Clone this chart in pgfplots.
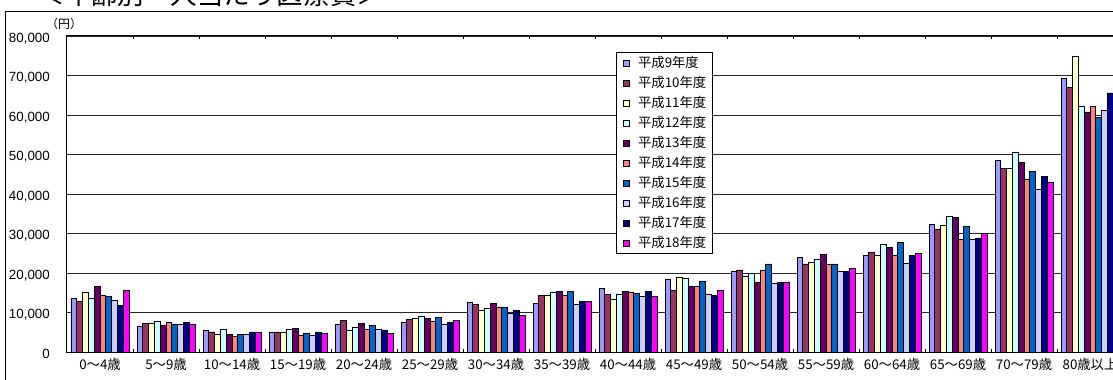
\documentclass[border=0pt]{standalone}
\usepackage{fontspec}
\setmainfont{Liberation Sans}
\newfontfamily\jp{Noto Sans CJK JP}
\usepackage{pgfplots}
\pgfplotsset{compat=1.18}
\definecolor{cA}{HTML}{9999FF}
\definecolor{cB}{HTML}{993366}
\definecolor{cC}{HTML}{FFFFCC}
\definecolor{cD}{HTML}{CCFFFF}
\definecolor{cE}{HTML}{660066}
\definecolor{cF}{HTML}{FF8080}
\definecolor{cG}{HTML}{0066CC}
\definecolor{cH}{HTML}{CCCCFF}
\definecolor{cI}{HTML}{000080}
\definecolor{cJ}{HTML}{FF00FF}
\begin{document}
\begin{tikzpicture}
\useasboundingbox (0,0) rectangle (834.75pt,284.25pt);
\clip (0,0) rectangle (834.75pt,284.25pt);
\node[font=\jp\fontsize{19.9}{21}\selectfont, anchor=base] at (158pt,281pt) {＜年齢別一人当たり医療費＞};
\draw[black, line width=0.75pt] (3.75pt,-10pt) rectangle (850pt,275.25pt);
\node[font=\jp\fontsize{9}{10}\selectfont] at (48pt,266.4pt) {（円）};
\begin{axis}[
  at={(50.25pt,20.25pt)}, anchor=south west,
  scale only axis, width=792pt, height=237pt,
  ybar=0pt, bar width=4.35pt,
  xmin=-0.5, xmax=15.5, ymin=0, ymax=80000,
  xtick={0,...,15},
  xticklabels={0〜4歳,5〜9歳,10〜14歳,15〜19歳,20〜24歳,25〜29歳,30〜34歳,35〜39歳,40〜44歳,45〜49歳,50〜54歳,55〜59歳,60〜64歳,65〜69歳,70〜79歳,80歳以上},
  minor xtick={-0.5,0.5,...,15.5},
  major tick length=0pt, minor tick length=2.25pt, tick align=inside,
  minor tick style={black, line width=0.75pt},
  ytick={0,10000,...,80000},
  scaled y ticks=false,
  /pgf/number format/.cd, fixed, precision=0, 1000 sep={,}, assume math mode=true, /pgfplots/.cd,
  ymajorgrids, grid style={black!85, line width=0.6pt},
  axis line style={black, line width=0.75pt},
  yticklabel style={font=\fontsize{10}{12}\selectfont, text height=7.2pt, text depth=0pt, xshift=-9.4pt, yshift=-1pt},
  xticklabel style={font=\jp\fontsize{10}{12}\selectfont, yshift=-1.2pt},
  every axis plot/.append style={draw=black, line width=0.5pt},
  legend cell align=left,
  legend image code/.code={\draw[#1, line width=0.5pt] (5.25pt,-2.25pt) rectangle (9.75pt,2.25pt); \path (0pt,0pt) (15.75pt,0pt);},
  legend style={at={(0.5199,0.9494)}, anchor=north west, draw=black, line width=0.6pt, fill=white,
    font=\jp\fontsize{10}{12}\selectfont, inner xsep=0pt, inner ysep=0.4pt, row sep=0pt, column sep=0pt,
    nodes={inner sep=0pt, text height=11.2pt, text depth=3.8pt, text width=55.5pt}},
]
\addplot[fill=cA] coordinates {(0,13500) (1,6600) (2,5400) (3,5100) (4,7100) (5,7400) (6,12600) (7,12200) (8,16200) (9,18300) (10,20300) (11,24000) (12,24500) (13,32400) (14,48600) (15,69400)};
\addplot[fill=cB] coordinates {(0,12900) (1,7200) (2,5100) (3,5100) (4,8000) (5,8200) (6,12000) (7,14300) (8,14500) (9,15700) (10,20800) (11,22300) (12,25300) (13,31000) (14,46400) (15,66900)};
\addplot[fill=cC] coordinates {(0,15200) (1,7200) (2,4500) (3,5100) (4,5400) (5,8500) (6,10500) (7,14300) (8,13400) (9,18900) (10,19100) (11,22600) (12,24500) (13,32100) (14,46400) (15,74800)};
\addplot[fill=cD] coordinates {(0,13500) (1,7700) (2,5700) (3,5700) (4,6300) (5,9100) (6,11100) (7,15100) (8,14500) (9,18600) (10,20000) (11,23400) (12,27300) (13,34400) (14,50600) (15,62100)};
\addplot[fill=cE] coordinates {(0,16600) (1,6800) (2,4500) (3,6000) (4,7200) (5,8500) (6,12200) (7,15400) (8,15400) (9,16600) (10,17700) (11,24600) (12,26400) (13,34100) (14,48000) (15,60800)};
\addplot[fill=cF] coordinates {(0,14400) (1,7400) (2,3900) (3,4300) (4,5700) (5,7700) (6,11400) (7,14300) (8,15100) (9,16600) (10,20600) (11,22300) (12,24500) (13,28600) (14,43800) (15,62100)};
\addplot[fill=cG] coordinates {(0,14000) (1,7100) (2,4500) (3,4800) (4,6800) (5,8800) (6,11400) (7,15400) (8,14900) (9,18000) (10,22300) (11,22300) (12,27800) (13,31800) (14,45800) (15,59400)};
\addplot[fill=cH] coordinates {(0,13200) (1,7100) (2,4500) (3,4300) (4,5700) (5,7100) (6,9700) (7,12000) (8,14000) (9,14500) (10,17400) (11,20300) (12,22400) (13,28600) (14,41300) (15,61300)};
\addplot[fill=cI] coordinates {(0,11800) (1,7400) (2,5100) (3,5100) (4,5600) (5,7400) (6,10500) (7,12800) (8,15400) (9,14300) (10,17700) (11,20300) (12,24500) (13,28900) (14,44400) (15,65600)};
\addplot[fill=cJ] coordinates {(0,15500) (1,7100) (2,5100) (3,4800) (4,4800) (5,8000) (6,9200) (7,12800) (8,14000) (9,15700) (10,17700) (11,21100) (12,25000) (13,30100) (14,43000) (15,63000)};
\legend{平成9年度,平成10年度,平成11年度,平成12年度,平成13年度,平成14年度,平成15年度,平成16年度,平成17年度,平成18年度}
\end{axis}
\end{tikzpicture}
\end{document}
